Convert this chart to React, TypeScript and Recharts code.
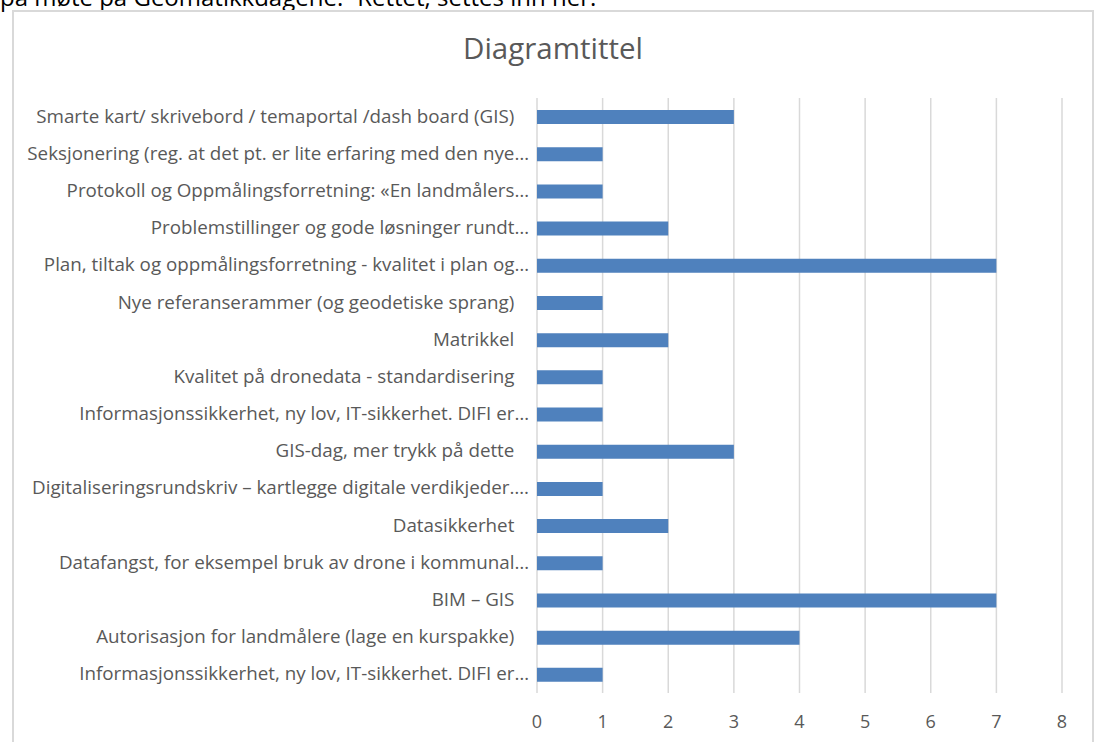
import React from 'react'
import { BarChart, Bar, XAxis, YAxis, CartesianGrid } from 'recharts'

const categories = [
  'Smarte kart/ skrivebord / temaportal /dash board (GIS)   ',
  'Seksjonering (reg. at det pt. er lite erfaring med den nye…',
  'Protokoll og Oppmålingsforretning: «En landmålers…',
  'Problemstillinger og gode løsninger rundt…',
  'Plan, tiltak og oppmålingsforretning - kvalitet i plan og…',
  'Nye referanserammer (og geodetiske sprang)   ',
  'Matrikkel   ',
  'Kvalitet på dronedata - standardisering   ',
  'Informasjonssikkerhet, ny lov, IT-sikkerhet. DIFI er…',
  'GIS-dag, mer trykk på dette   ',
  'Digitaliseringsrundskriv – kartlegge digitale verdikjeder….',
  'Datasikkerhet   ',
  'Datafangst, for eksempel bruk av drone i kommunal…',
  'BIM – GIS   ',
  'Autorisasjon for landmålere (lage en kurspakke)   ',
  'Informasjonssikkerhet, ny lov, IT-sikkerhet. DIFI er…',
]

const values = [3, 1, 1, 2, 7, 1, 2, 1, 1, 3, 1, 2, 1, 7, 4, 1]

const xTicks = [0, 1, 2, 3, 4, 5, 6, 7, 8]

const data = categories.map((c, i) => ({ id: i, label: c, value: values[i] }))

const FONT = '"Open Sans", sans-serif'

function CategoryTick(props: any) {
  const { x, y, payload } = props
  return (
    <text
      x={x}
      y={y}
      dy={6}
      textAnchor="end"
      fill="#595959"
      fontSize={18.8}
      fontFamily={FONT}
      style={{ whiteSpace: 'pre' }}
    >
      {categories[payload.value]}
    </text>
  )
}

export default function App() {
  return (
    <div
      style={{
        position: 'absolute',
        left: 0,
        top: 0,
        width: 1096,
        height: 742,
        overflow: 'hidden',
        background: '#fff',
        fontFamily: FONT,
      }}
    >
      <div
        style={{
          position: 'absolute',
          left: 0,
          top: -20,
          fontSize: 24,
          color: '#000',
          whiteSpace: 'nowrap',
          fontFamily: FONT,
        }}
      >
        på møte på Geomatikkdagene. -Rettet, settes inn her.
      </div>
      <div
        style={{
          position: 'absolute',
          left: 12,
          top: 10,
          width: 1078,
          height: 760,
          border: '2px solid #d9d9d9',
        }}
      />
      <div
        style={{
          position: 'absolute',
          left: 0,
          top: 28,
          width: 1106,
          textAlign: 'center',
          fontSize: 29.5,
          lineHeight: '40px',
          color: '#595959',
          fontFamily: FONT,
        }}
      >
        Diagramtittel
      </div>
      <div style={{ position: 'absolute', left: 0, top: 0 }}>
        <BarChart
          width={1096}
          height={742}
          data={data}
          layout="vertical"
          margin={{ top: 98, right: 34, left: 0, bottom: 0 }}
          barSize={14}
        >
          <CartesianGrid horizontal={false} stroke="#d9d9d9" strokeWidth={1.5} />
          <XAxis
            type="number"
            domain={[0, 8]}
            ticks={xTicks}
            axisLine={false}
            tickLine={false}
            height={49}
            tick={{ fill: '#595959', fontSize: 18, fontFamily: FONT, dy: 14 }}
          />
          <YAxis
            type="category"
            dataKey="id"
            width={537}
            axisLine={false}
            tickLine={false}
            interval={0}
            tick={<CategoryTick />}
          />
          <Bar dataKey="value" fill="#4f81bd" isAnimationActive={false} />
        </BarChart>
      </div>
    </div>
  )
}
